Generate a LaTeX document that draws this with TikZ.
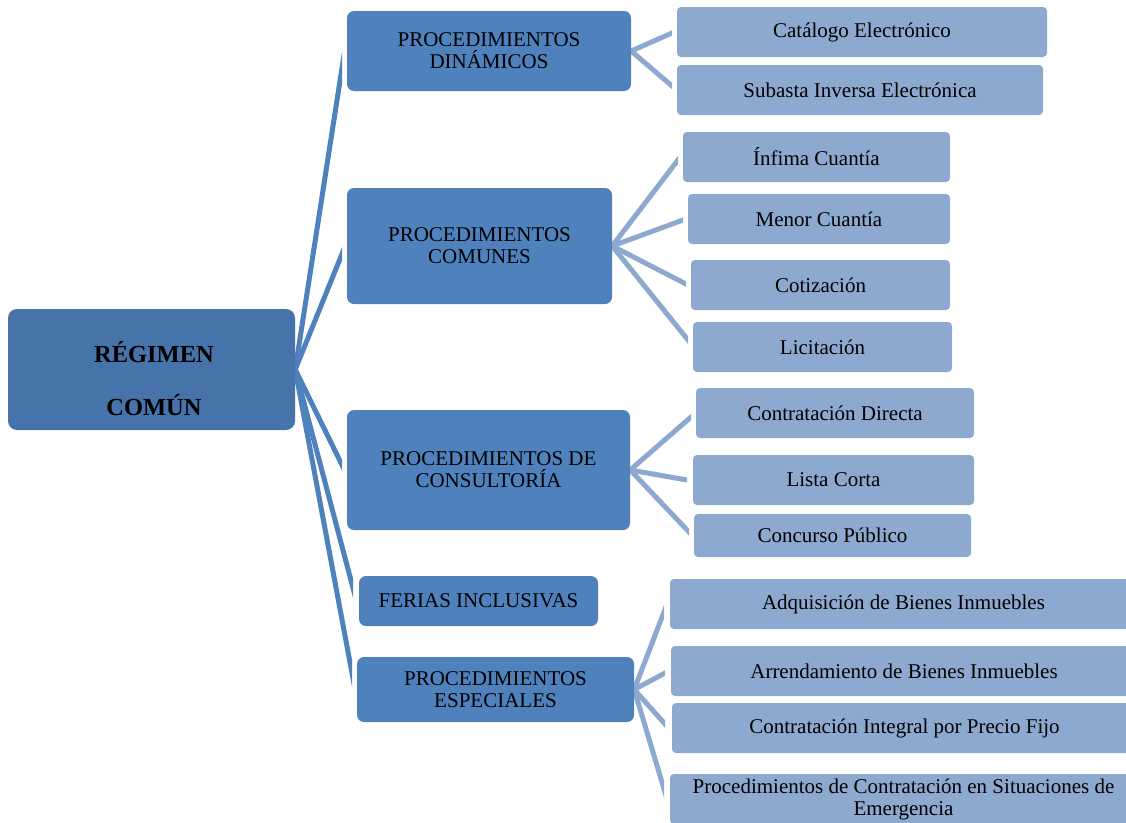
\documentclass[tikz,border=0pt]{standalone}
\usepackage{fontspec}
\setmainfont{Liberation Serif}
\usetikzlibrary{calc,backgrounds}
\definecolor{rootblue}{RGB}{70,116,170}
\definecolor{midblue}{RGB}{79,129,189}
\definecolor{leafblue}{RGB}{142,169,207}
\tikzset{
 rootbox/.style={fill=rootblue, rounded corners=9pt, inner sep=0pt},
 roottext/.style={align=center, inner sep=0pt, font=\fontsize{24.5}{53}\selectfont\bfseries},
 midbox/.style={fill=midblue, rounded corners=7pt, align=center, inner sep=0pt, font=\fontsize{21}{22}\selectfont},
 leafbox/.style={fill=leafblue, rounded corners=4pt, align=center, inner sep=0pt, font=\fontsize{21}{22}\selectfont, minimum height=50pt},
 midline/.style={draw=midblue, line width=5pt},
 leafline/.style={draw=leafblue, line width=5pt},
}
\newcommand\myconn[3]{%
 \begin{scope}
 \clip let \p1=(#2), \p2=(#3) in (\x1-40pt,-2000pt) rectangle (\x2,2000pt);
 \draw[#1] ($(#3)!1.05!(#2)$) -- ($(#2)!1.4!(#3)$);
 \end{scope}}
\begin{document}
\begin{tikzpicture}[x=1pt,y=-1pt]
\useasboundingbox (0,0) rectangle (1126,822);
% root
\node[rootbox, minimum width=287pt, minimum height=121pt] (root) at (151.5,369.5) {};
\node[roottext] (rootlabel) at (154,379) {RÉGIMEN\\COMÚN};
% mid level
\node[midbox, minimum width=284pt, minimum height=80pt] (din) at (489,51) {PROCEDIMIENTOS\\DINÁMICOS};
\node[midbox, minimum width=265pt, minimum height=116pt] (com) at (479.5,246) {PROCEDIMIENTOS\\COMUNES};
\node[midbox, minimum width=283pt, minimum height=120pt] (cons) at (488.5,470) {PROCEDIMIENTOS DE\\CONSULTORÍA};
\node[midbox, minimum width=239pt, minimum height=50pt] (fer) at (478.5,601) {FERIAS INCLUSIVAS};
\node[midbox, minimum width=277pt, minimum height=65pt] (esp) at (495.5,689.5) {PROCEDIMIENTOS\\ESPECIALES};
% leaves
\node[leafbox, minimum width=370pt] (cat) at (862,32) {Catálogo Electrónico};
\node[leafbox, minimum width=366pt] (sub) at (860,90) {Subasta Inversa Electrónica};
\node[leafbox, minimum width=267pt] (inf) at (816.5,157) {Ínfima Cuantía};
\node[leafbox, minimum width=262pt] (men) at (819,219) {Menor Cuantía};
\node[leafbox, minimum width=259pt] (cot) at (820.5,285) {Cotización};
\node[leafbox, minimum width=259pt] (lic) at (822.5,347) {Licitación};
\node[leafbox, minimum width=278pt] (cdir) at (835,413) {Contratación Directa};
\node[leafbox, minimum width=281pt] (lista) at (833.5,480) {Lista Corta};
\node[leafbox, minimum width=277pt, minimum height=43pt] (conc) at (832.5,535.5) {Concurso Público};
\node[leafbox, minimum width=467pt] (adq) at (903.5,604) {Adquisición de Bienes Inmuebles};
\node[leafbox, minimum width=466pt] (arr) at (904,671) {Arrendamiento de Bienes Inmuebles};
\node[leafbox, minimum width=465pt] (cint) at (904.5,728) {Contratación Integral por Precio Fijo};
\node[leafbox, minimum width=467pt] (emer) at (903.5,799) {Procedimientos de Contratación en Situaciones de\\Emergencia};
% connector ends
\coordinate (e-din) at (342,68);
\coordinate (e-com) at (342,254);
\coordinate (e-cons) at (342,465);
\coordinate (e-fer) at (353,588);
\coordinate (e-esp) at (352,673);
\coordinate (e-cat) at (672,33);
\coordinate (e-sub) at (672,86);
\coordinate (e-inf) at (678,160);
\coordinate (e-men) at (683,220);
\coordinate (e-cot) at (686,284);
\coordinate (e-lic) at (688,340);
\coordinate (e-cdir) at (691,417);
\coordinate (e-lista) at (687,480);
\coordinate (e-conc) at (689,532);
\coordinate (e-adq) at (664,612);
\coordinate (e-arr) at (665,673);
\coordinate (e-cint) at (665,724);
\coordinate (e-emer) at (664,789);
\begin{pgfonlayer}{background}
\myconn{midline}{root.east}{e-din}
\myconn{midline}{root.east}{e-com}
\myconn{midline}{root.east}{e-cons}
\myconn{midline}{root.east}{e-fer}
\myconn{midline}{root.east}{e-esp}
\myconn{leafline}{din.east}{e-cat}
\myconn{leafline}{din.east}{e-sub}
\myconn{leafline}{com.east}{e-inf}
\myconn{leafline}{com.east}{e-men}
\myconn{leafline}{com.east}{e-cot}
\myconn{leafline}{com.east}{e-lic}
\myconn{leafline}{cons.east}{e-cdir}
\myconn{leafline}{cons.east}{e-lista}
\myconn{leafline}{cons.east}{e-conc}
\myconn{leafline}{esp.east}{e-adq}
\myconn{leafline}{esp.east}{e-arr}
\myconn{leafline}{esp.east}{e-cint}
\myconn{leafline}{esp.east}{e-emer}
\end{pgfonlayer}
\end{tikzpicture}
\end{document}
